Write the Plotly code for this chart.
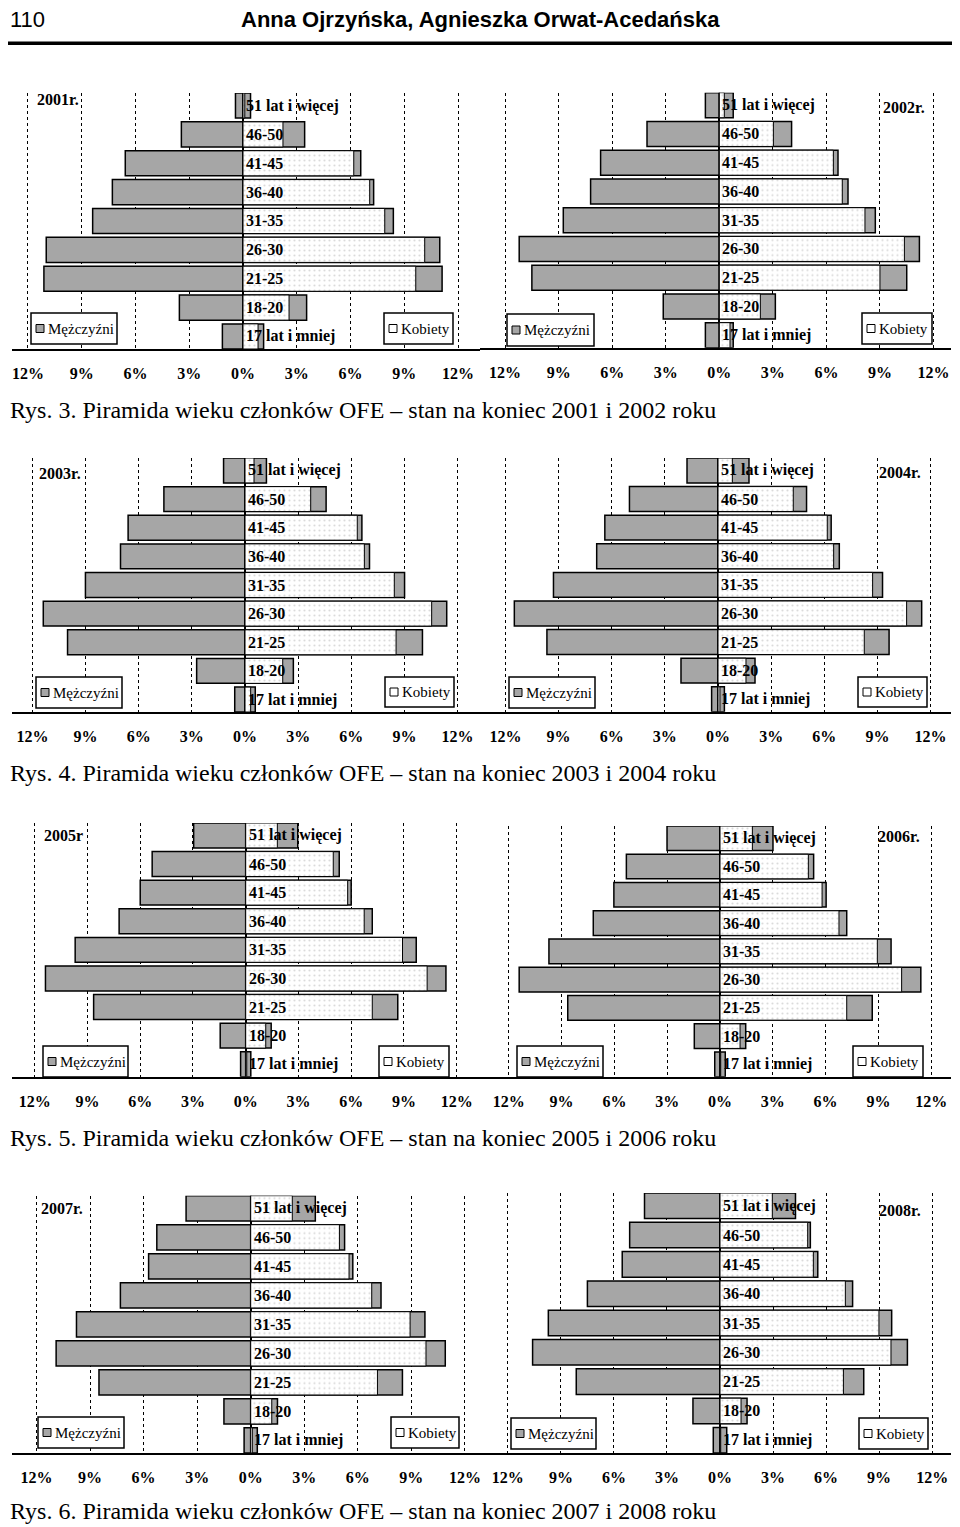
import plotly.graph_objects as go

# ---------------- data ----------------
categories = ["17 lat i mniej", "18-20", "21-25", "26-30", "31-35",
              "36-40", "41-45", "46-50", "51 lat i więcej"]

men_2001 = [1.15, 3.55, 11.11, 10.98, 8.39, 7.29, 6.57, 3.44, 0.42]
women_2001 = [0.84, 2.57, 9.64, 10.14, 7.91, 7.07, 6.18, 2.23, 0.10]
men_2002 = [0.78, 3.14, 10.50, 11.21, 8.74, 7.21, 6.65, 4.05, 0.78]
women_2002 = [0.60, 2.30, 9.00, 10.37, 8.16, 6.89, 6.39, 3.03, 0.28]
men_2003 = [0.58, 2.73, 10.02, 11.39, 9.01, 7.03, 6.60, 4.58, 1.21]
women_2003 = [0.32, 2.13, 8.53, 10.54, 8.43, 6.74, 6.34, 3.71, 0.51]
men_2004 = [0.36, 2.09, 9.66, 11.50, 9.29, 6.85, 6.39, 5.00, 1.75]
women_2004 = [0.11, 1.58, 8.26, 10.65, 8.73, 6.53, 6.17, 4.25, 0.81]
men_2005 = [0.29, 1.45, 8.65, 11.39, 9.70, 7.20, 6.00, 5.32, 2.96]
women_2005 = [0.06, 1.14, 7.20, 10.32, 8.92, 6.74, 5.80, 4.98, 1.80]
men_2006 = [0.30, 1.46, 8.65, 11.41, 9.72, 7.20, 6.03, 5.32, 3.01]
women_2006 = [0.04, 1.14, 7.20, 10.32, 8.94, 6.76, 5.80, 5.02, 1.84]
men_2007 = [0.37, 1.50, 8.50, 10.90, 9.76, 7.30, 5.72, 5.26, 3.62]
women_2007 = [0.09, 1.18, 7.10, 9.82, 8.93, 6.78, 5.51, 4.97, 2.33]
men_2008 = [0.38, 1.53, 8.13, 10.60, 9.71, 7.50, 5.53, 5.11, 4.27]
women_2008 = [0.04, 1.19, 6.98, 9.67, 8.99, 7.09, 5.28, 4.96, 2.96]

year_labels = ["2001r.", "2002r.", "2003r.", "2004r.", "2005r", "2006r.", "2007r.", "2008r."]
tick_vals = [-12, -9, -6, -3, 0, 3, 6, 9, 12]
tick_text = ["12%", "9%", "6%", "3%", "0%", "3%", "6%", "9%", "12%"]
legend_men = "Mężczyźni"
legend_women = "Kobiety"
captions = [
    "Rys. 3. Piramida wieku członków OFE – stan na koniec 2001 i 2002 roku",
    "Rys. 4. Piramida wieku członków OFE – stan na koniec 2003 i 2004 roku",
    "Rys. 5. Piramida wieku członków OFE – stan na koniec 2005 i 2006 roku",
    "Rys. 6. Piramida wieku członków OFE – stan na koniec 2007 i 2008 roku",
]
page_number = "110"
authors = "Anna Ojrzyńska, Agnieszka Orwat-Acedańska"

men_all = [men_2001, men_2002, men_2003, men_2004, men_2005, men_2006, men_2007, men_2008]
women_all = [women_2001, women_2002, women_2003, women_2004, women_2005, women_2006, women_2007, women_2008]

# ---------------- layout geometry (page pixels) ----------------
OFF = 8                     # page body margin of the browser
W, H = 960 - OFF, 1527 - OFF
GRAY = "#a6a6a6"
SERIF = "Liberation Serif, Times New Roman, serif"
SANS = "Liberation Sans Narrow, Arial Narrow, Liberation Sans, Arial, sans-serif"
BARW = 0.87


def px(x):
    return (x - OFF) / W


def py(y):
    return 1 - (y - OFF) / H


# x0: pixel of 0%, ppx: pixels per 1%, ytop/ybot: top of bars / axis line
geo = [
    dict(side="L", x0=243.0, ppx=17.92, ytop=93.0, ybot=349.0, yl=(35, 100, "left"),
         mb=(31, 313, 117, 344), kb=(384, 313, 453, 344), cap=410),
    dict(side="R", x0=719.3, ppx=17.85, ytop=92.7, ybot=347.7, yl=(927, 107, "right"),
         mb=(507, 314, 594, 346), kb=(862, 313, 932, 344)),
    dict(side="L", x0=245.0, ppx=17.71, ytop=458.0, ybot=712.0, yl=(37, 473, "left"),
         mb=(36, 677, 122, 708), kb=(385, 677, 454, 707), cap=773),
    dict(side="R", x0=718.0, ppx=17.71, ytop=458.0, ybot=711.7, yl=(923, 472, "right"),
         mb=(509, 677, 595, 708), kb=(858, 677, 927, 707)),
    dict(side="L", x0=245.7, ppx=17.58, ytop=823.0, ybot=1076.7, yl=(42, 835, "left"),
         mb=(43, 1046, 128, 1077), kb=(379, 1046, 449, 1077), cap=1138),
    dict(side="R", x0=720.0, ppx=17.60, ytop=826.0, ybot=1076.7, yl=(922, 836, "right"),
         mb=(517, 1046, 603, 1077), kb=(853, 1046, 923, 1077)),
    dict(side="L", x0=250.7, ppx=17.85, ytop=1195.7, ybot=1453.0, yl=(39, 1208, "left"),
         mb=(38, 1417, 124, 1448), kb=(391, 1417, 459, 1448), cap=1511),
    dict(side="R", x0=720.0, ppx=17.68, ytop=1193.0, ybot=1453.0, yl=(923, 1210, "right"),
         mb=(511, 1418, 596, 1449), kb=(859, 1418, 928, 1449)),
]

fig = go.Figure()
shapes = []
annotations = []
layout_axes = {}

for i, g in enumerate(geo):
    n = i + 1
    xa = "x" if n == 1 else f"x{n}"
    ya = "y" if n == 1 else f"y{n}"
    men = men_all[i]
    women = women_all[i]

    # male bars (left)
    fig.add_trace(go.Bar(
        y=categories, x=[-v for v in men], orientation="h", width=BARW,
        marker=dict(color=GRAY, line=dict(color="black", width=1.5)),
        xaxis=xa, yaxis=ya, showlegend=False, hoverinfo="skip"))
    # mirrored male bars behind the female ones (right)
    fig.add_trace(go.Bar(
        y=categories, x=men, orientation="h", width=BARW,
        marker=dict(color=GRAY, line=dict(color="black", width=1.5)),
        xaxis=xa, yaxis=ya, showlegend=False, hoverinfo="skip"))
    # female bars (right)
    fig.add_trace(go.Bar(
        y=categories, x=women, orientation="h", width=BARW,
        marker=dict(color="white", line=dict(color="black", width=1),
                    pattern=dict(shape=".", fgcolor="#b8b8b8", bgcolor="white",
                                 size=5, solidity=0.15)),
        xaxis=xa, yaxis=ya, showlegend=False, hoverinfo="skip"))

    # domains / ranges
    if g["side"] == "L":
        px_l, px_r = 12, 480
    else:
        px_l, px_r = 480, 951
    xr = [(px_l - g["x0"]) / g["ppx"], (px_r - g["x0"]) / g["ppx"]]
    pitch = (g["ybot"] - g["ytop"]) / (8 + BARW)
    ytop_dom = g["ybot"] - (8 + BARW) * pitch

    layout_axes["xaxis" if n == 1 else f"xaxis{n}"] = dict(
        domain=[px(px_l), px(px_r)], range=xr, anchor=ya,
        tickvals=tick_vals, ticktext=tick_text,
        tickfont=dict(family=SERIF, size=16, color="black", weight="bold"),
        ticks="", ticklabelstandoff=9,
        showgrid=True, gridcolor="black", griddash="3px,3px", gridwidth=1,
        zeroline=True, zerolinecolor="black", zerolinewidth=1.5,
        showline=True, linecolor="black", linewidth=1.5, fixedrange=True)
    layout_axes["yaxis" if n == 1 else f"yaxis{n}"] = dict(
        domain=[py(g["ybot"]), py(ytop_dom)], anchor=xa,
        type="category", categoryorder="array", categoryarray=categories,
        range=[-BARW / 2, 8 + BARW / 2],
        showticklabels=False, showgrid=False, zeroline=False, showline=False,
        fixedrange=True)

    # category labels inside the bars
    for c in categories:
        annotations.append(dict(
            x=0, y=c, xref=xa, yref=ya, text=c, showarrow=False,
            xanchor="left", yanchor="middle", xshift=1,
            font=dict(family=SERIF, size=16, color="black", weight="bold")))

    # year label
    yx, yy, anc = g["yl"]
    annotations.append(dict(
        x=px(yx), y=py(yy), xref="paper", yref="paper", text=year_labels[i],
        showarrow=False, xanchor=anc, yanchor="middle",
        font=dict(family=SERIF, size=16, color="black", weight="bold")))

    # legend boxes
    for box, fill, txt in ((g["mb"], GRAY, legend_men), (g["kb"], "white", legend_women)):
        bx0, by0, bx1, by1 = box
        shapes.append(dict(type="rect", xref="paper", yref="paper",
                           x0=px(bx0), x1=px(bx1), y0=py(by1), y1=py(by0),
                           line=dict(color="black", width=1.5), fillcolor="white",
                           layer="above"))
        cy = (by0 + by1) / 2
        shapes.append(dict(type="rect", xref="paper", yref="paper",
                           x0=px(bx0 + 5), x1=px(bx0 + 13), y0=py(cy + 4), y1=py(cy - 4),
                           line=dict(color="black", width=1), fillcolor=fill,
                           layer="above"))
        annotations.append(dict(
            x=px(bx0 + 15), y=py(cy), xref="paper", yref="paper", text=txt,
            showarrow=False, xanchor="left", yanchor="middle",
            font=dict(family=SERIF, size=15, color="black")))

    if "cap" in g:
        annotations.append(dict(
            x=px(8), y=py(g["cap"]), xref="paper", yref="paper",
            text=captions[i // 2], showarrow=False, xanchor="left", yanchor="middle",
            font=dict(family=SERIF, size=24, color="black")))

# header (kept inside the visible page area)
annotations.append(dict(
    x=px(8), y=1, xref="paper", yref="paper", text=page_number, showarrow=False,
    xanchor="left", yanchor="top", yshift=3,
    font=dict(family=SANS, size=22, color="black")))
annotations.append(dict(
    x=px(480), y=1, xref="paper", yref="paper", text=authors, showarrow=False,
    xanchor="center", yanchor="top", yshift=3,
    font=dict(family=SANS, size=22, color="black", weight="bold")))
shapes.append(dict(type="line", xref="paper", yref="paper", x0=0, x1=1,
                   y0=py(43.3), y1=py(43.3), line=dict(color="black", width=3.5)))

fig.update_layout(
    width=W, height=H, margin=dict(l=0, r=0, t=0, b=0),
    paper_bgcolor="white", plot_bgcolor="white",
    barmode="overlay", showlegend=False,
    shapes=shapes, annotations=annotations, **layout_axes)

fig.write_html("out.html")
